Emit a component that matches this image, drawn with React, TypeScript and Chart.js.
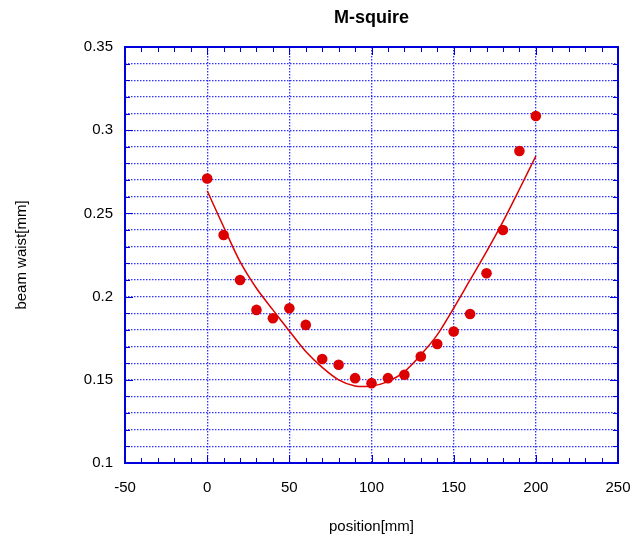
import React, { useEffect, useRef } from "react";
import { Chart, registerables } from "chart.js";

Chart.register(...registerables);

// measured beam waist [mm] at position [mm]
const positions = [0, 10, 20, 30, 40, 50, 60, 70, 80, 90, 100, 110, 120, 130, 140, 150, 160, 170, 180, 190, 200];
const waist = [0.271, 0.237, 0.21, 0.192, 0.187, 0.193, 0.183, 0.1625, 0.159, 0.151, 0.148, 0.151, 0.153, 0.164, 0.1715, 0.179, 0.1895, 0.214, 0.24, 0.2875, 0.3085];

// fitted curve
const fitPositions = [0, 10, 20, 30, 40, 50, 60, 70, 80, 90, 100, 110, 120, 130, 140, 150, 160, 170, 180, 190, 200];
const fitWaist = [0.2636, 0.242, 0.221, 0.205, 0.192, 0.1793, 0.167, 0.1575, 0.150, 0.1463, 0.1463, 0.1489, 0.1549, 0.165, 0.177, 0.193, 0.21, 0.227, 0.245, 0.2645, 0.2845];

const xMajorTicks = [-50, 0, 50, 100, 150, 200, 250];
const yMajorTicks = [0.1, 0.15, 0.2, 0.25, 0.3, 0.35];
const xTickLabels = ["-50", "0", "50", "100", "150", "200", "250"];
const yTickLabels = ["0.1", "0.15", "0.2", "0.25", "0.3", "0.35"];

const FONT = "'Liberation Sans', Arial, sans-serif";
const BLUE = "#0000dd";
const GRID = "rgba(30,30,255,0.9)";
const RED = "#dd0000";

const majorIndex = (arr: number[], v: number) => arr.findIndex((m) => Math.abs(m - v) < 1e-6);

const frameTicks = {
  id: "frameTicks",
  afterDraw(chart: any) {
    const { ctx, chartArea } = chart;
    const xs = chart.scales.x;
    const ys = chart.scales.y;
    const { left, right, top, bottom } = chartArea;
    ctx.save();
    ctx.strokeStyle = BLUE;
    ctx.lineWidth = 1;
    ctx.beginPath();
    xs.ticks.forEach((t: any) => {
      const px = Math.round(xs.getPixelForValue(t.value)) + 0.5;
      const len = majorIndex(xMajorTicks, t.value) >= 0 ? 8 : 5;
      ctx.moveTo(px, bottom);
      ctx.lineTo(px, bottom - len);
      ctx.moveTo(px, top);
      ctx.lineTo(px, top + len);
    });
    ys.ticks.forEach((t: any) => {
      const py = Math.round(ys.getPixelForValue(t.value)) + 0.5;
      const len = majorIndex(yMajorTicks, t.value) >= 0 ? 8 : 5;
      ctx.moveTo(left, py);
      ctx.lineTo(left + len, py);
      ctx.moveTo(right, py);
      ctx.lineTo(right - len, py);
    });
    ctx.stroke();
    ctx.lineWidth = 2;
    ctx.strokeRect(Math.round(left), Math.round(top), Math.round(right - left), Math.round(bottom - top));
    ctx.restore();
  },
};

export default function App() {
  const ref = useRef<HTMLCanvasElement | null>(null);

  useEffect(() => {
    if (!ref.current) return;
    const chart = new Chart(ref.current, {
      type: "scatter",
      data: {
        datasets: [
          {
            label: "measured",
            data: positions.map((p, i) => ({ x: p, y: waist[i] })),
            backgroundColor: RED,
            borderColor: RED,
            pointRadius: 5.3,
            pointBorderWidth: 0,
            showLine: false,
          },
          {
            label: "fit",
            data: fitPositions.map((p, i) => ({ x: p, y: fitWaist[i] })),
            borderColor: RED,
            backgroundColor: RED,
            borderWidth: 1.5,
            pointRadius: 0,
            showLine: true,
            tension: 0.3,
          },
        ],
      },
      options: {
        responsive: false,
        animation: false,
        layout: { padding: { left: 0, right: 21, top: 0, bottom: 0 } },
        plugins: {
          legend: { display: false },
          tooltip: { enabled: false },
          title: { display: false },
        },
        scales: {
          top: {
            type: "linear",
            position: "top",
            min: -50,
            max: 250,
            afterFit: (s: any) => {
              s.height = 47;
              s.paddingLeft = 0;
              s.paddingRight = 0;
            },
            ticks: { display: false },
            grid: { display: false, drawTicks: false },
            border: { display: false },
            title: {
              display: true,
              text: "M-squire",
              color: "#000",
              font: { family: FONT, size: 18, weight: "bold" },
              padding: { top: 7, bottom: 0 },
            },
          },
          x: {
            type: "linear",
            position: "bottom",
            min: -50,
            max: 250,
            afterFit: (s: any) => {
              s.height = 73;
              s.paddingLeft = 0;
              s.paddingRight = 0;
            },
            ticks: {
              stepSize: 10,
              autoSkip: false,
              maxRotation: 0,
              padding: 16,
              color: "#000",
              font: { family: FONT, size: 15 },
              callback: (v: any) => {
                const i = majorIndex(xMajorTicks, Number(v));
                return i >= 0 ? xTickLabels[i] : "";
              },
            },
            grid: {
              drawTicks: false,
              color: (c: any) => (c.tick && majorIndex(xMajorTicks, c.tick.value) >= 0 ? GRID : "rgba(0,0,0,0)"),
              lineWidth: 1.3,
            },
            border: { display: false, dash: [1.5, 1.5] },
            title: {
              display: true,
              text: "position[mm]",
              color: "#000",
              font: { family: FONT, size: 15 },
              padding: { top: 0, bottom: 0 },
            },
          },
          y: {
            type: "linear",
            min: 0.1,
            max: 0.35,
            afterFit: (s: any) => {
              s.width = 125;
            },
            ticks: {
              stepSize: 0.01,
              autoSkip: false,
              padding: 12,
              color: "#000",
              font: { family: FONT, size: 15 },
              callback: (v: any) => {
                const i = majorIndex(yMajorTicks, Number(v));
                return i >= 0 ? yTickLabels[i] : "";
              },
            },
            grid: {
              drawTicks: false,
              color: GRID,
              lineWidth: 1.3,
            },
            border: { display: false, dash: [1.5, 1.5] },
            title: {
              display: true,
              text: "beam waist[mm]",
              color: "#000",
              font: { family: FONT, size: 15 },
              padding: { top: 13, bottom: 0 },
            },
          },
        },
      },
      plugins: [frameTicks],
    });
    return () => chart.destroy();
  }, []);

  return (
    <div style={{ position: "absolute", left: 0, top: 0, width: 639, height: 536, background: "#fff" }}>
      <canvas ref={ref} width={639} height={536} />
    </div>
  );
}
